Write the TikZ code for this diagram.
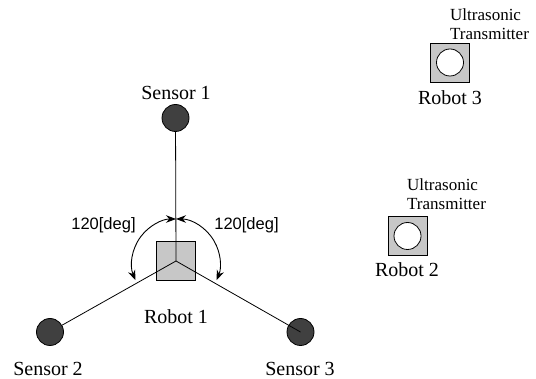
\documentclass[tikz,border=0pt]{standalone}
\usepackage{fontspec}
\setmainfont{Liberation Serif}
\newfontfamily\degfont{Liberation Sans}
\usetikzlibrary{arrows.meta,positioning}

\begin{document}
\begin{tikzpicture}[x=10pt,y=10pt]
\tikzstyle{every node}+=[inner sep=0pt]
\tikzstyle{robot}=[draw=black,fill=black!22,minimum size=39pt,line width=0.8pt]
\tikzstyle{sensor}=[circle,draw=black,fill=black!75,minimum size=27pt,line width=0.8pt]
\tikzstyle{transmitter}=[circle,draw=black,fill=white,minimum size=27pt,line width=0.8pt]
\tikzstyle{bigtext}=[font=\fontsize{20}{24}\selectfont]
\tikzstyle{smalltext}=[font=\fontsize{17}{18.5}\selectfont,align=left]
\tikzstyle{degtext}=[font=\degfont\fontsize{16.5}{18}\selectfont]
\tikzstyle{turn}=[line width=0.9pt,{Stealth[length=10pt,width=7.5pt]}-{Stealth[length=10pt,width=7.5pt]}]
\useasboundingbox (0,0) rectangle (53.6,-37.9);
% robot 1 and its sensors
\node [robot] (r1) at (17.6,-26.1) {};
\node [sensor] (s1) at (17.55,-11.8) {};
\node [sensor] (s2) at (5.0,-33.2) {};
\node [sensor] (s3) at (30.05,-33.2) {};
\draw [line width=0.8pt] (r1.center) -- (s1);
\draw [line width=0.8pt] (r1.center) -- (s2);
\draw [line width=0.8pt] (r1.center) -- (s3.center);
\node [bigtext] (l1) at (17.6,-31.7) {Robot 1};
\node [bigtext] (ls1) at (17.6,-9.3) {Sensor 1};
\node [bigtext] (ls2) at (4.8,-36.9) {Sensor 2};
\node [bigtext] (ls3) at (30.0,-36.9) {Sensor 3};
% angles between the sensors
\coordinate (pivot) at (17.6,-26.3);
\draw [turn] ([shift={(203:4.4)}]pivot) arc (203:90:4.4);
\draw [turn] ([shift={(90:4.4)}]pivot) arc (90:-23:4.4);
\node [degtext] (dl) at (10.35,-22.5) {120[deg]};
\node [degtext] (dr) at (24.65,-22.5) {120[deg]};
% robot 2
\node [robot] (r2) at (40.75,-23.6) {};
\node [transmitter] (t2) at (r2) {};
\node [smalltext,anchor=west] (u2) at (40.7,-19.4) {Ultrasonic\\Transmitter};
\node [bigtext] (l2) at (40.7,-27.0) {Robot 2};
% robot 3
\node [robot] (r3) at (45.0,-6.25) {};
\node [transmitter] (t3) at (r3) {};
\node [smalltext,anchor=west] (u3) at (45.0,-2.4) {Ultrasonic\\Transmitter};
\node [bigtext] (l3) at (45.0,-9.8) {Robot 3};
\end{tikzpicture}
\end{document}
